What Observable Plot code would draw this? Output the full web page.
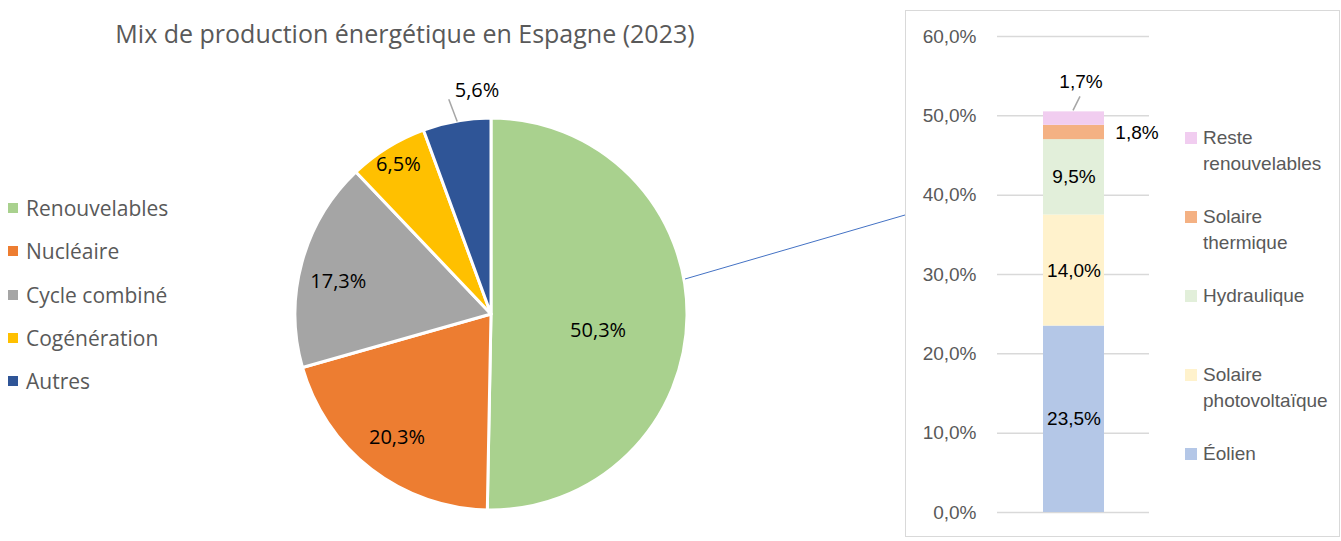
<!DOCTYPE html>
<html>
<head>
<meta charset="utf-8">
<script src="https://cdn.jsdelivr.net/npm/d3@7"></script>
<script src="https://cdn.jsdelivr.net/npm/@observablehq/plot@0.6"></script>
<style>
  html, body { margin: 0; padding: 0; background: #fff; }
  #wrap { position: relative; width: 1341px; height: 541px; overflow: hidden; background: #fff; }
  .abs { position: absolute; }
  #title { left: 0; width: 810px; top: 16px; text-align: center; font-family: "Open Sans", sans-serif; font-size: 25px; color: #595959; }
  .lleg { position: absolute; left: 8px; font-family: "Open Sans", sans-serif; font-size: 21px; color: #595959; display: flex; align-items: center; white-space: nowrap; }
  .lleg i { display: inline-block; width: 10px; height: 10px; margin-right: 8px; }
  #box { left: 905px; top: 10px; width: 433px; height: 525px; border: 1.5px solid #d9d9d9; }
  .rleg { position: absolute; left: 1185px; font-family: "Liberation Sans", Arial, sans-serif; font-size: 19px; line-height: 26px; color: #595959; }
  .rleg i { position: absolute; left: 0; top: 7px; width: 12px; height: 12px; }
  .rleg span { display: block; margin-left: 18px; }
</style>
</head>
<body>
<div id="wrap"></div>
<script>
// ---- Data ----
const pieCats = ["Renouvelables", "Nucléaire", "Cycle combiné", "Cogénération", "Autres"];
const pieValues = [50.3, 20.3, 17.3, 6.5, 5.6];
const pieColors = ["#a9d18e", "#ed7d31", "#a5a5a5", "#ffc000", "#2f5597"];

const barCats = ["Éolien", "Solaire photovoltaïque", "Hydraulique", "Solaire thermique", "Reste renouvelables"];
const barValues = [23.5, 14.0, 9.5, 1.8, 1.7];
const barColors = ["#b4c7e7", "#fff2cc", "#e2efda", "#f4b183", "#f1cdf0"];
const barLegendLines = [["Éolien"], ["Solaire", "photovoltaïque"], ["Hydraulique"], ["Solaire", "thermique"], ["Reste", "renouvelables"]];
const yTicks = [0, 10, 20, 30, 40, 50, 60];
const groupName = "Renouvelables";

const fmt = v => v.toFixed(1).replace(".", ",") + "%";

const wrap = document.getElementById("wrap");

// ---- Pie ----
const pieData = pieCats.map((name, i) => ({name, value: pieValues[i]}));
const pieColor = d3.scaleOrdinal(pieCats, pieColors);
const arcs = d3.pie().sort(null).value(d => d.value)(pieData);
// label placement (radius as fraction of R, angular nudge in degrees)
const labelR = [0.55, 0.79, 0.8, 0.9, 1.16];
const labelDA = [8, 0, -3, 0, 0];
const labels = arcs.map((a, i) => {
  const mid = (a.startAngle + a.endAngle) / 2;
  const ang = mid + labelDA[i] * Math.PI / 180;
  return {
    text: fmt(a.data.value),
    mid,
    x: labelR[i] * Math.sin(ang),
    y: labelR[i] * Math.cos(ang),
    outside: labelR[i] > 1
  };
});
const leaders = labels.filter(d => d.outside).map(d => ({
  x1: Math.sin(d.mid), y1: Math.cos(d.mid),
  x2: 1.12 * Math.sin(d.mid - 0.02), y2: 1.12 * Math.cos(d.mid - 0.02)
}));

function pieSlices(index, scales, values, dimensions, context) {
  const cx = scales.x(0), cy = scales.y(0), R = scales.x(1) - cx;
  const g = d3.create("svg:g").attr("transform", `translate(${cx},${cy})`);
  g.selectAll("path").data(arcs).join("path")
    .attr("d", d3.arc().innerRadius(0).outerRadius(R))
    .attr("fill", d => pieColor(d.data.name))
    .attr("stroke", "#fff")
    .attr("stroke-width", 3)
    .attr("stroke-linejoin", "round");
  return g.node();
}

const pie = Plot.plot({
  width: 905, height: 541,
  margin: 0,
  x: {domain: [-1, 1], range: [295, 687], axis: null},
  y: {domain: [-1, 1], range: [510, 118], axis: null},
  style: {background: "transparent", fontFamily: "'Open Sans', sans-serif", overflow: "visible"},
  marks: [
    pieSlices,
    Plot.link(leaders, {x1: "x1", y1: "y1", x2: "x2", y2: "y2", stroke: "#a6a6a6", strokeWidth: 1.5}),
    Plot.text(labels.filter(d => !d.outside), {x: "x", y: "y", text: "text", fill: "#000", fontSize: 20}),
    Plot.text(labels.filter(d => d.outside), {x: "x", y: "y", text: "text", fill: "#000", fontSize: 20, textAnchor: "start", dx: 3})
  ]
});
pie.classList.add("abs");
pie.style.left = "0px"; pie.style.top = "0px";
wrap.appendChild(pie);

// connector line from pie to the bar box
const conn = d3.create("svg").attr("class", "abs").attr("width", 1341).attr("height", 541)
  .style("left", "0px").style("top", "0px");
conn.append("line").attr("x1", 685).attr("y1", 279).attr("x2", 905).attr("y2", 215)
  .attr("stroke", "#4472c4").attr("stroke-width", 1);
wrap.appendChild(conn.node());

// Title
const title = document.createElement("div");
title.id = "title"; title.className = "abs";
title.textContent = "Mix de production énergétique en Espagne (2023)";
wrap.appendChild(title);

// Left legend
pieCats.forEach((c, i) => {
  const d = document.createElement("div");
  d.className = "lleg";
  d.style.top = (194 + i * 43.3) + "px";
  d.innerHTML = `<i style="background:${pieColors[i]}"></i>${c}`;
  wrap.appendChild(d);
});

// Box
const box = document.createElement("div");
box.id = "box"; box.className = "abs";
wrap.appendChild(box);

// ---- Stacked bar ----
const barData = barCats.map((name, i) => ({group: groupName, name, value: barValues[i]}));
const total = d3.sum(barValues);
const inside = new Set(["Éolien", "Solaire photovoltaïque", "Hydraulique"]);

function topLeader(index, scales, values, dimensions, context) {
  const {width, marginLeft, marginRight} = dimensions;
  const x = (marginLeft + width - marginRight) / 2;
  const y = scales.y(total);
  const g = d3.create("svg:g");
  g.append("line")
    .attr("x1", x).attr("y1", y - 1)
    .attr("x2", x + 7).attr("y2", y - 15)
    .attr("stroke", "#a6a6a6").attr("stroke-width", 1.5);
  return g.node();
}

const bar = Plot.plot({
  width: 436, height: 541,
  marginLeft: 92, marginRight: 192, marginTop: 36, marginBottom: 29,
  x: {domain: [groupName], padding: 0.427, axis: null},
  y: {domain: [0, 60], ticks: yTicks},
  color: {domain: barCats, range: barColors},
  style: {background: "transparent", fontFamily: "'Liberation Sans', Arial, sans-serif", overflow: "visible"},
  marks: [
    Plot.gridY(yTicks, {stroke: "#d9d9d9", strokeOpacity: 1, strokeWidth: 1.5}),
    Plot.axisY(yTicks, {tickSize: 0, tickPadding: 21, tickFormat: fmt, fontSize: 19, fill: "#595959", label: null}),
    Plot.barY(barData, {x: "group", y: "value", fill: "name", order: barCats}),
    Plot.text(barData, Plot.stackY({x: "group", y: "value", z: "name", order: barCats,
      text: d => inside.has(d.name) ? fmt(d.value) : "", fill: "#000", fontSize: 19})),
    Plot.text(barData, Plot.stackY({x: "group", y: "value", z: "name", order: barCats,
      text: d => d.name === "Solaire thermique" ? fmt(d.value) : "", fill: "#000", fontSize: 19, dx: 63})),
    Plot.text(barData, Plot.stackY2({x: "group", y: "value", z: "name", order: barCats,
      text: d => d.name === "Reste renouvelables" ? fmt(d.value) : "", fill: "#000", fontSize: 19, dx: 7, dy: -30})),
    topLeader
  ]
});
bar.classList.add("abs");
bar.style.left = "905px"; bar.style.top = "0px";
wrap.appendChild(bar);

// Right legend (top to bottom: reverse stack order)
barCats.slice().reverse().forEach((c, j) => {
  const i = barCats.length - 1 - j;
  const d = document.createElement("div");
  d.className = "rleg";
  d.style.top = (125 + j * 79) + "px";
  d.innerHTML = `<i style="background:${barColors[i]}"></i>` + barLegendLines[i].map(s => `<span>${s}</span>`).join("");
  wrap.appendChild(d);
});
</script>
</body>
</html>
